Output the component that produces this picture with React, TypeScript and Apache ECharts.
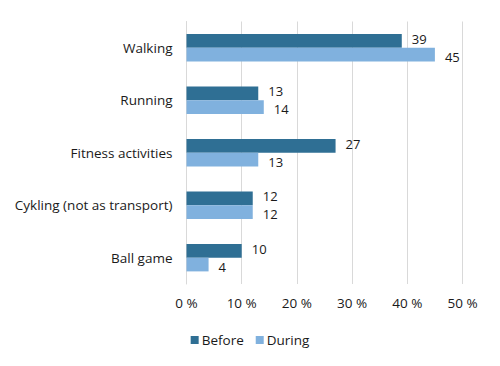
import React, { useEffect, useRef } from "react";
import * as echarts from "echarts";

const categories = ["Walking", "Running", "Fitness activities", "Cykling (not as transport)", "Ball game"];
const beforeValues = [39, 13, 27, 12, 10];
const duringValues = [45, 14, 13, 12, 4];
const seriesNames = ["Before", "During"];

const FONT = "'Open Sans', 'Noto Sans', sans-serif";

export default function App() {
  const ref = useRef<HTMLDivElement>(null);
  useEffect(() => {
    if (!ref.current) return;
    const chart = echarts.init(ref.current, null, { renderer: "svg" });
    chart.setOption({
      animation: false,
      textStyle: { fontFamily: FONT },
      grid: { left: 186.5, right: 37.5, top: 21.5, bottom: 82, containLabel: false },
      legend: {
        bottom: 14,
        left: "center",
        itemWidth: 8,
        itemHeight: 8,
        itemGap: 12,
        icon: "rect",
        textStyle: { fontFamily: FONT, fontSize: 13.5, color: "#1a1a1a", padding: [0, 0, 0, -2] },
        data: seriesNames,
      },
      xAxis: {
        type: "value",
        min: 0,
        max: 50,
        interval: 10,
        axisLine: { show: false },
        axisTick: { show: false },
        splitLine: { show: true, lineStyle: { color: "#d9d9d9", width: 1 } },
        axisLabel: { formatter: "{value} %", color: "#1a1a1a", fontSize: 13.5, fontFamily: FONT, margin: 12 },
      },
      yAxis: {
        type: "category",
        inverse: true,
        data: categories,
        axisLine: { show: true, lineStyle: { color: "#d9d9d9" } },
        axisTick: { show: false },
        axisLabel: { color: "#1a1a1a", fontSize: 13.5, fontFamily: FONT, margin: 14 },
      },
      series: [
        {
          name: seriesNames[0],
          type: "bar",
          data: beforeValues,
          barGap: "0%",
          barCategoryGap: "48%",
          itemStyle: { color: "#2f6f94" },
          label: { show: true, position: "right", distance: 10, color: "#1a1a1a", fontSize: 13, lineHeight: 11, fontFamily: FONT, offset: [0, -2] },
        },
        {
          name: seriesNames[1],
          type: "bar",
          data: duringValues,
          barGap: "0%",
          barCategoryGap: "48%",
          itemStyle: { color: "#80b1de" },
          label: { show: true, position: "right", distance: 10, color: "#1a1a1a", fontSize: 13, lineHeight: 11, fontFamily: FONT, offset: [0, 2] },
        },
      ],
    });
    return () => chart.dispose();
  }, []);
  return <div ref={ref} style={{ width: 500, height: 366, position: "absolute", left: 0, top: 0 }} />;
}
